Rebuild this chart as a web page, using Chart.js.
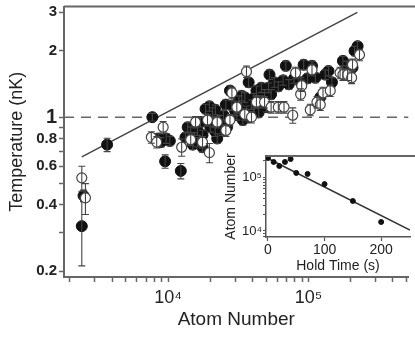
<!DOCTYPE html>
<html>
<head>
<meta charset="utf-8">
<script src="https://cdn.jsdelivr.net/npm/chart.js@4.4.0/dist/chart.umd.min.js"></script>
<style>
  html, body { margin: 0; padding: 0; background: #fff; overflow: hidden; }
  #wrap { position: relative; width: 415px; height: 338px; }
  #main { position: absolute; left: 0; top: 0; }
  #inset { position: absolute; left: 220px; top: 148px; background: #fff; }
</style>
</head>
<body>
<div id="wrap">
  <canvas id="main" width="415" height="338"></canvas>
  <canvas id="inset" width="195" height="127"></canvas>
</div>
<script>
// filled circles: atom number, temperature (nK), fractional error
const filledN = [2500, 2430, 3680, 7730, 8510, 8900, 9700, 10300, 9530, 12330, 13800, 14500, 15400, 16200, 17000, 17600, 18500, 19700, 20700, 21700, 20000, 21700, 22400, 23300, 24800, 25800, 27600, 28500, 30000, 30900, 32000, 33400, 34100, 36200, 37500, 39300, 40900, 42600, 44200, 46200, 48700, 52000, 52800, 54200, 57000, 61000, 66000, 69000, 72500, 79000, 88000, 92400, 98500, 106000, 112000, 121400, 131600, 139000, 147000, 176000, 188000, 197000, 224000, 213000, 206000, 16200, 17600, 15000, 13300, 20700, 24300, 26300, 33400, 37500, 40900, 44200, 50000, 35200, 46200];
const filledT = [0.44, 0.32, 0.75, 1.0, 0.80, 0.77, 0.80, 0.78, 0.63, 0.57, 0.90, 0.86, 0.81, 0.87, 0.95, 0.83, 1.09, 1.12, 1.05, 1.08, 0.90, 0.86, 0.80, 0.97, 1.02, 1.14, 1.32, 1.13, 1.07, 1.02, 1.19, 1.25, 0.97, 1.07, 1.44, 1.14, 1.22, 1.32, 1.05, 1.19, 1.27, 1.36, 1.56, 1.27, 1.44, 1.38, 1.47, 1.71, 1.41, 1.50, 1.44, 1.73, 1.50, 1.71, 1.51, 1.23, 1.56, 1.62, 1.44, 1.80, 1.71, 1.62, 2.10, 2.00, 1.68, 0.77, 0.73, 0.75, 0.81, 0.95, 0.87, 0.90, 1.11, 1.00, 1.05, 1.17, 1.11, 1.23, 1.36];
const filledErr = [0.06, 0.34, 0.07, 0.04, 0.05, 0.05, 0.05, 0.05, 0.07, 0.08, 0.05, 0.05, 0.05, 0.05, 0.05, 0.05, 0.05, 0.05, 0.05, 0.05, 0.05, 0.05, 0.05, 0.05, 0.05, 0.05, 0.05, 0.05, 0.05, 0.05, 0.05, 0.05, 0.05, 0.05, 0.05, 0.05, 0.05, 0.05, 0.05, 0.05, 0.05, 0.05, 0.05, 0.05, 0.05, 0.05, 0.05, 0.05, 0.05, 0.05, 0.05, 0.05, 0.05, 0.05, 0.05, 0.05, 0.05, 0.05, 0.05, 0.05, 0.05, 0.05, 0.05, 0.05, 0.05, 0.05, 0.05, 0.05, 0.05, 0.05, 0.05, 0.05, 0.05, 0.05, 0.05, 0.05, 0.05, 0.05, 0.05];

// open circles
const openN = [2430, 2580, 7600, 9230, 8300, 12500, 19700, 14500, 15700, 17600, 19100, 22400, 25800, 27600, 28500, 30900, 35200, 36200, 39300, 42600, 48700, 54200, 61000, 67000, 77300, 81000, 88000, 89500, 103000, 106000, 115000, 121400, 127000, 143000, 168000, 176000, 190000, 203000, 231000, 206000];
const openT = [0.53, 0.43, 0.81, 0.90, 0.77, 0.73, 0.69, 0.79, 0.95, 0.77, 0.97, 0.95, 0.87, 0.97, 1.29, 1.11, 1.03, 1.61, 1.00, 1.17, 1.17, 1.11, 1.11, 1.11, 1.02, 1.59, 1.27, 1.39, 1.08, 1.64, 1.17, 1.14, 1.29, 1.32, 1.59, 1.56, 1.56, 1.51, 1.92, 1.73];
const openErr = [0.13, 0.16, 0.06, 0.06, 0.06, 0.09, 0.10, 0.06, 0.06, 0.06, 0.06, 0.06, 0.06, 0.06, 0.06, 0.06, 0.06, 0.06, 0.06, 0.06, 0.06, 0.06, 0.06, 0.06, 0.08, 0.06, 0.06, 0.06, 0.06, 0.06, 0.06, 0.06, 0.06, 0.06, 0.06, 0.06, 0.06, 0.06, 0.06, 0.06];

// T ~ N^(1/3) line and T = 1 nK reference
const lineN = [2430, 223000];
const lineT = [0.66, 2.99];
const refN = [1815, 516000];
const refT = [1, 1];

const xTicks = [2000, 3000, 4000, 5000, 6000, 7000, 8000, 9000, 10000, 20000, 30000, 40000, 50000, 60000, 70000, 80000, 90000, 100000, 200000, 300000, 400000, 500000];
const yTicks = [0.2, 0.3, 0.4, 0.5, 0.6, 0.7, 0.8, 0.9, 1, 2, 3];
const yLabels = [0.2, 0.4, 0.6, 0.8, 1, 2, 3];

// inset: hold time (s) vs atom number
const holdT = [0, 10, 20, 30, 40, 50, 70, 100, 150, 200];
const holdN = [225000, 190000, 160000, 190000, 215000, 119000, 114000, 74000, 36000, 14700];
const fitT = [0, 251];
const fitN = [220000, 10400];
const insetYTicks = [8000, 9000, 10000, 20000, 30000, 40000, 50000, 60000, 70000, 80000, 90000, 100000, 200000];

const FONT = '"Liberation Sans", Arial, sans-serif';
const pts = (xs, ys) => xs.map((x, i) => ({ x: x, y: ys[i] }));

// fixed axis sizes, no extra padding for edge tick labels
const fixW = w => s => { s.width = w; s.paddingTop = 0; s.paddingBottom = 0; };
const fixH = h => s => { s.height = h; s.paddingLeft = 0; s.paddingRight = 0; };

const errorBars = {
  id: 'errorBars',
  afterDatasetDraw(chart, args) {
    const ds = chart.data.datasets[args.index];
    if (!ds.err) return;
    const ctx = chart.ctx, ys = chart.scales.y;
    ctx.save();
    ctx.strokeStyle = '#444';
    ctx.lineWidth = 1.1;
    args.meta.data.forEach((p, j) => {
      const t = ds.data[j].y, e = ds.err[j];
      const y1 = ys.getPixelForValue(t * (1 + e));
      const y2 = ys.getPixelForValue(t * (1 - e));
      ctx.beginPath();
      ctx.moveTo(p.x, y1); ctx.lineTo(p.x, y2);
      ctx.moveTo(p.x - 3.5, y1); ctx.lineTo(p.x + 3.5, y1);
      ctx.moveTo(p.x - 3.5, y2); ctx.lineTo(p.x + 3.5, y2);
      ctx.stroke();
    });
    ctx.restore();
  }
};

const topBorder = {
  id: 'topBorder',
  afterDraw(chart) {
    const a = chart.chartArea, ctx = chart.ctx;
    ctx.save();
    ctx.strokeStyle = '#666';
    ctx.lineWidth = 2;
    ctx.beginPath();
    ctx.moveTo(a.left, a.top);
    ctx.lineTo(chart.width, a.top);
    ctx.stroke();
    ctx.restore();
  }
};

new Chart(document.getElementById('main'), {
  type: 'scatter',
  data: {
    datasets: [
      { data: pts(openN, openT), err: openErr, order: 1,
        pointRadius: 5, pointBackgroundColor: '#fff', pointBorderColor: '#444', pointBorderWidth: 1.2 },
      { data: pts(filledN, filledT), err: filledErr, order: 2,
        pointRadius: 5.5, pointBackgroundColor: '#111', pointBorderColor: '#111', pointBorderWidth: 1 },
      { data: pts(lineN, lineT), order: 3, showLine: true, pointRadius: 0,
        borderColor: '#444', borderWidth: 1.5 },
      { data: pts(refN, refT), order: 4, showLine: true, pointRadius: 0,
        borderColor: '#666', borderWidth: 1.5, borderDash: [10, 7] }
    ]
  },
  options: {
    responsive: false,
    animation: false,
    layout: { padding: { top: 0, right: 0, left: 0, bottom: 0 } },
    plugins: { legend: { display: false }, tooltip: { enabled: false } },
    scales: {
      x: {
        type: 'logarithmic', min: 1815, max: 516000,
        afterBuildTicks: s => { s.ticks = xTicks.map(v => ({ value: v })); },
        afterFit: fixH(61),
        ticks: {
          autoSkip: false, maxRotation: 0, padding: 5, color: '#222',
          font: { family: FONT, size: 18 },
          callback: v => v === 10000 ? '10\u2074' : (v === 100000 ? '10\u2075' : '')
        },
        grid: { drawOnChartArea: false, tickLength: 5, tickColor: '#666', tickWidth: 1.5 },
        border: { color: '#666', width: 2 },
        title: { display: true, text: 'Atom Number', color: '#222',
          font: { family: FONT, size: 19 }, padding: { top: 0, bottom: 7 } }
      },
      y: {
        type: 'logarithmic', min: 0.188, max: 3.18,
        afterBuildTicks: s => { s.ticks = yTicks.map(v => ({ value: v })); },
        afterFit: fixW(64),
        ticks: {
          autoSkip: false, padding: 2, color: '#222',
          font: c => ({ family: FONT, weight: 'bold', size: c.tick && c.tick.value === 1 ? 20 : 15 }),
          callback: v => yLabels.includes(v) ? String(v) : ''
        },
        grid: { drawOnChartArea: false, tickLength: 5, tickColor: '#666', tickWidth: 1.5 },
        border: { color: '#666', width: 2 },
        title: { display: true, text: 'Temperature (nK)', color: '#222',
          font: { family: FONT, size: 18 }, padding: { top: 6, bottom: 0 } }
      }
    }
  },
  plugins: [errorBars, topBorder]
});

new Chart(document.getElementById('inset'), {
  type: 'scatter',
  data: {
    datasets: [
      { data: pts(holdT, holdN), pointRadius: 2.5, pointBackgroundColor: '#111', pointBorderColor: '#111' },
      { data: pts(fitT, fitN), showLine: true, pointRadius: 0, borderColor: '#333', borderWidth: 1.5 }
    ]
  },
  options: {
    responsive: false,
    animation: false,
    layout: { padding: { top: 8, right: 0, left: 0, bottom: 0 } },
    plugins: { legend: { display: false }, tooltip: { enabled: false } },
    scales: {
      x: {
        type: 'linear', min: -3.5, max: 251,
        afterBuildTicks: s => { s.ticks = [0, 100, 200].map(v => ({ value: v })); },
        afterFit: fixH(38),
        ticks: { autoSkip: false, maxRotation: 0, padding: 1, color: '#222',
          font: { family: FONT, size: 14 } },
        grid: { drawOnChartArea: false, tickLength: 4, tickColor: '#555', tickWidth: 1.2 },
        border: { color: '#555', width: 1.5 },
        title: { display: true, text: 'Hold Time (s)', color: '#222',
          font: { family: FONT, size: 14 }, padding: { top: 0, bottom: 0 } }
      },
      y: {
        type: 'logarithmic', min: 7740, max: 245000,
        afterBuildTicks: s => { s.ticks = insetYTicks.map(v => ({ value: v })); },
        afterFit: fixW(46),
        ticks: { autoSkip: false, padding: 1, color: '#222',
          font: { family: FONT, size: 13 },
          callback: v => v === 10000 ? '10\u2074' : (v === 100000 ? '10\u2075' : '') },
        grid: { drawOnChartArea: false, tickLength: 3, tickColor: '#555', tickWidth: 1 },
        border: { color: '#555', width: 1.5 },
        title: { display: true, text: 'Atom Number', color: '#222',
          font: { family: FONT, size: 14 }, padding: { top: 3, bottom: 0 } }
      }
    }
  },
  plugins: [topBorder]
});
</script>
</body>
</html>
